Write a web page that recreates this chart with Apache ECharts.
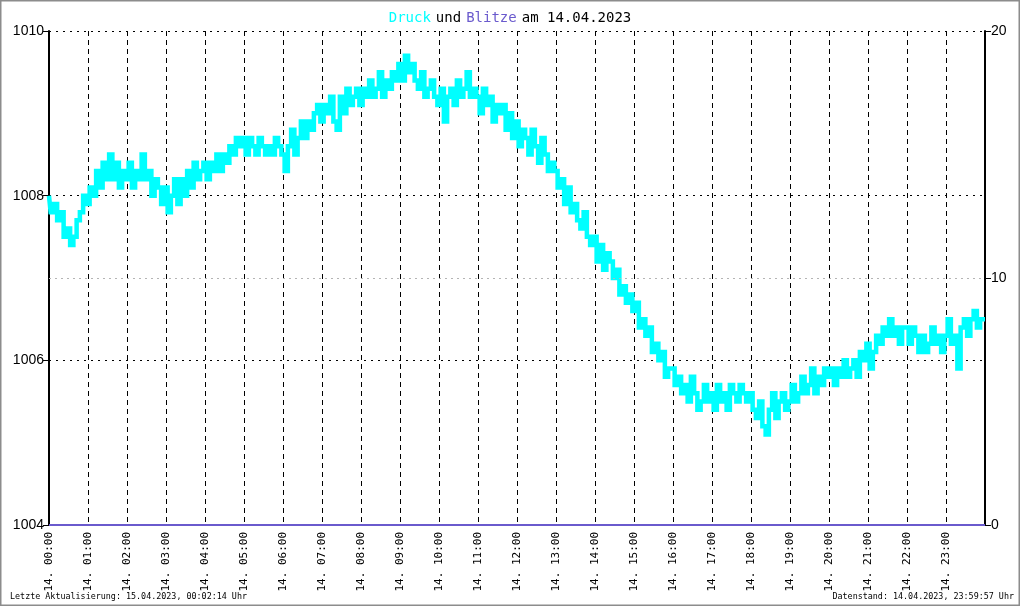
<!DOCTYPE html>
<html>
<head>
<meta charset="utf-8">
<script src="https://cdn.jsdelivr.net/npm/echarts@6/dist/echarts.min.js"></script>
<style>
html,body{margin:0;padding:0;background:#fff;}
#chart{width:1020px;height:606px;}
</style>
</head>
<body>
<div id="chart"></div>
<script>
// Titles / texts
const titleDate = '14.04.2023';
const footerLeft = 'Letzte Aktualisierung: 15.04.2023, 00:02:14 Uhr';
const footerRight = 'Datenstand: 14.04.2023, 23:59:57 Uhr';
const dayLabel = '14.';

// Pressure (hPa), 5-minute samples, one row per hour 00..23
const druck = [
  1008.0,1007.8,1007.9,1007.7,1007.8,1007.5,1007.6,1007.4,1007.5,1007.7,1007.8,1008.0,
  1007.9,1008.1,1008.0,1008.3,1008.1,1008.4,1008.2,1008.5,1008.2,1008.4,1008.1,1008.3,
  1008.2,1008.4,1008.1,1008.3,1008.2,1008.5,1008.2,1008.3,1008.0,1008.2,1008.1,1007.9,
  1008.1,1007.8,1008.0,1008.2,1007.9,1008.2,1008.0,1008.3,1008.1,1008.4,1008.2,1008.3,
  1008.4,1008.2,1008.4,1008.3,1008.5,1008.3,1008.5,1008.4,1008.6,1008.5,1008.7,1008.6,
  1008.7,1008.5,1008.7,1008.6,1008.5,1008.7,1008.6,1008.5,1008.6,1008.5,1008.7,1008.6,
  1008.5,1008.3,1008.6,1008.8,1008.5,1008.7,1008.9,1008.7,1008.9,1008.8,1009.0,1009.1,
  1008.9,1009.1,1009.0,1009.2,1008.9,1008.8,1009.2,1009.0,1009.3,1009.1,1009.2,1009.3,
  1009.1,1009.3,1009.2,1009.4,1009.2,1009.3,1009.5,1009.2,1009.4,1009.3,1009.5,1009.4,
  1009.6,1009.4,1009.7,1009.5,1009.6,1009.4,1009.3,1009.5,1009.2,1009.3,1009.4,1009.2,
  1009.1,1009.3,1008.9,1009.2,1009.3,1009.1,1009.4,1009.2,1009.3,1009.5,1009.2,1009.3,
  1009.2,1009.0,1009.3,1009.1,1009.2,1008.9,1009.1,1009.0,1009.1,1008.8,1009.0,1008.7,
  1008.9,1008.6,1008.8,1008.7,1008.5,1008.8,1008.6,1008.4,1008.7,1008.5,1008.3,1008.4,
  1008.3,1008.1,1008.2,1007.9,1008.1,1007.8,1007.9,1007.7,1007.6,1007.8,1007.5,1007.4,
  1007.5,1007.2,1007.4,1007.1,1007.3,1007.2,1007.0,1007.1,1006.8,1006.9,1006.7,1006.8,
  1006.6,1006.7,1006.4,1006.5,1006.3,1006.4,1006.1,1006.2,1006.0,1006.1,1005.8,1005.9,
  1005.9,1005.7,1005.8,1005.6,1005.7,1005.5,1005.8,1005.6,1005.4,1005.5,1005.7,1005.5,
  1005.6,1005.4,1005.7,1005.5,1005.6,1005.4,1005.7,1005.6,1005.5,1005.7,1005.6,1005.5,
  1005.6,1005.4,1005.3,1005.5,1005.2,1005.1,1005.4,1005.6,1005.3,1005.5,1005.6,1005.4,
  1005.5,1005.7,1005.5,1005.6,1005.8,1005.6,1005.7,1005.9,1005.6,1005.8,1005.7,1005.9,
  1005.8,1005.9,1005.7,1005.9,1005.8,1006.0,1005.8,1005.9,1006.0,1005.8,1006.1,1006.0,
  1006.2,1005.9,1006.1,1006.3,1006.2,1006.4,1006.3,1006.5,1006.3,1006.4,1006.2,1006.4,
  1006.4,1006.2,1006.4,1006.3,1006.1,1006.3,1006.1,1006.2,1006.4,1006.2,1006.3,1006.1,
  1006.3,1006.5,1006.2,1006.3,1005.9,1006.4,1006.5,1006.3,1006.5,1006.6,1006.4,1006.5
];
const sampleMinutes = 5;

// Lightning counts per hour (none)
const blitzeHours = [0,1,2,3,4,5,6,7,8,9,10,11,12,13,14,15,16,17,18,19,20,21,22,23,24];
const blitze =      [0,0,0,0,0,0,0,0,0,0,0,0,0,0,0,0,0,0,0,0,0,0,0,0,0];

// Axis ticks
const druckTicks = [1004, 1006, 1008, 1010];
const blitzeTicks = [0, 10, 20];

const druckData = druck.map((v, i) => [i * sampleMinutes, v]);
druckData.push([1440, druck[druck.length - 1]]);
const blitzeData = blitzeHours.map((h, i) => [h * 60, blitze[i]]);

const chart = echarts.init(document.getElementById('chart'), null, {renderer: 'canvas'});
const mono = 'DejaVu Sans Mono';
const option = {
  animation: false,
  backgroundColor: '#ffffff',
  title: {
    text: '{c|Druck} {k|und} {b|Blitze} {k|am ' + titleDate + '}',
    left: 'center',
    top: 4,
    textStyle: {
      fontWeight: 'normal',
      rich: {
        c: {color: '#00ffff', fontFamily: mono, fontSize: 14, fontWeight: 'normal'},
        b: {color: '#6a5acd', fontFamily: mono, fontSize: 14, fontWeight: 'normal'},
        k: {color: '#000000', fontFamily: mono, fontSize: 14, fontWeight: 'normal'}
      }
    }
  },
  graphic: [
    {type: 'rect', shape: {x: 0, y: 0, width: 1020, height: 606}, style: {fill: 'none', stroke: '#8c8c8c', lineWidth: 3}, silent: true, z: 100},
    {type: 'text', left: 10, top: 593, style: {text: footerLeft, font: '8.4px "DejaVu Sans Mono"', fill: '#000'}},
    {type: 'text', right: 6, top: 593, style: {text: footerRight, font: '8.4px "DejaVu Sans Mono"', fill: '#000', textAlign: 'right'}}
  ],
  grid: {left: 49, right: 35, top: 31, bottom: 81, containLabel: false},
  xAxis: {
    type: 'value', min: 0, max: 1440, interval: 60,
    axisLine: {show: true, lineStyle: {color: '#000', width: 1}},
    axisTick: {show: false},
    splitLine: {show: true, lineStyle: {color: '#000', type: [5, 4], width: 1}},
    axisLabel: {
      rotate: 90, margin: 7, color: '#000', fontFamily: mono, fontSize: 11,
      formatter: v => v >= 1440 ? '' : dayLabel + ' ' + String(Math.floor(v / 60)).padStart(2, '0') + ':00'
    }
  },
  yAxis: [
    {
      type: 'value', min: druckTicks[0], max: druckTicks[druckTicks.length - 1], interval: 2,
      position: 'left',
      axisLine: {show: true, lineStyle: {color: '#000', width: 2}},
      axisTick: {show: true, inside: false, length: 6, lineStyle: {color: '#000', width: 1}},
      axisLabel: {color: '#000', fontFamily: 'Liberation Sans', fontSize: 14, margin: 5, formatter: v => String(v)},
      splitLine: {show: true, lineStyle: {color: '#000', type: [2, 5], width: 1}}
    },
    {
      type: 'value', min: blitzeTicks[0], max: blitzeTicks[blitzeTicks.length - 1], interval: 10,
      position: 'right',
      axisLine: {show: true, lineStyle: {color: '#000', width: 2}},
      axisTick: {show: true, inside: false, length: 6, lineStyle: {color: '#000', width: 1}},
      axisLabel: {color: '#000', fontFamily: 'Liberation Sans', fontSize: 14, margin: 6, formatter: v => String(v)},
      splitLine: {show: false}
    }
  ],
  series: [
    {
      name: 'Blitze', type: 'line', yAxisIndex: 1, data: blitzeData,
      showSymbol: false, lineStyle: {color: '#6a5acd', width: 2}, z: 3,
      markLine: {
        silent: true, symbol: 'none', label: {show: false},
        lineStyle: {color: '#b4b4b4', type: [2, 4], width: 1},
        data: [{yAxis: blitzeTicks[1]}]
      }
    },
    {
      name: 'Druck', type: 'line', yAxisIndex: 0, data: druckData,
      showSymbol: false, step: 'middle',
      lineStyle: {color: '#00ffff', width: 4.5, join: 'miter', cap: 'butt'}, z: 4
    }
  ]
};
chart.setOption(option);
</script>
</body>
</html>
